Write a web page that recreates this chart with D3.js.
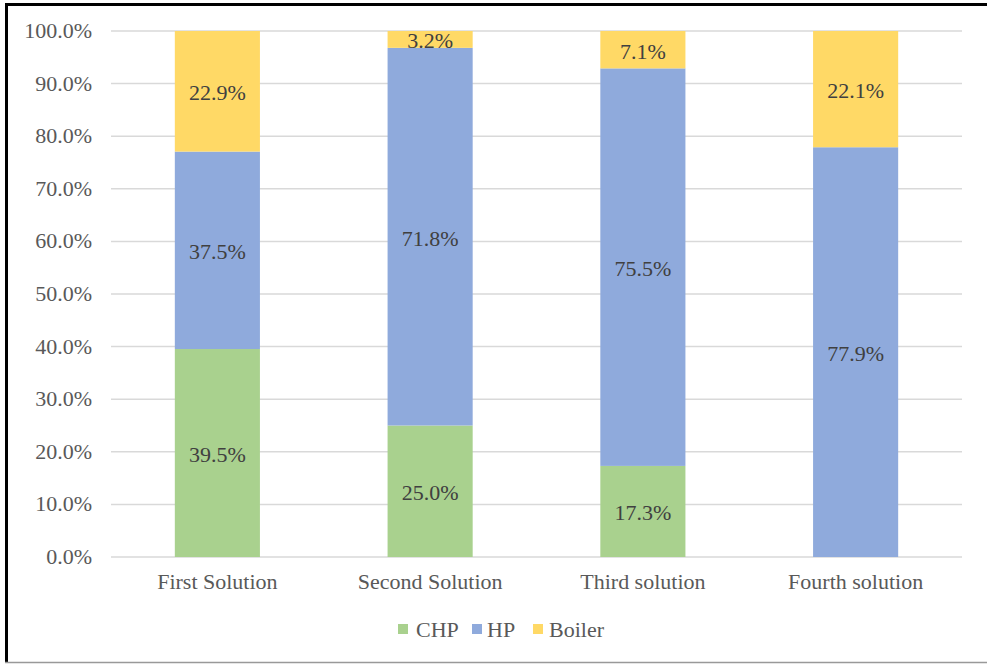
<!DOCTYPE html>
<html>
<head>
<meta charset="utf-8">
<script src="https://cdn.jsdelivr.net/npm/d3@7/dist/d3.min.js"></script>
<style>
  html, body { margin: 0; padding: 0; background: #fff; }
  svg { display: block; }
  text { font-family: "Liberation Serif", "Times New Roman", serif; }
</style>
</head>
<body>
<svg id="chart" width="987" height="664"></svg>
<script>
// Share of heat supply by technology for each solution
const categories = ["First Solution", "Second Solution", "Third solution", "Fourth solution"];
const seriesNames = ["CHP", "HP", "Boiler"];
const chpValues = [39.5, 25.0, 17.3, 0];
const hpValues = [37.5, 71.8, 75.5, 77.9];
const boilerValues = [22.9, 3.2, 7.1, 22.1];
const yTicks = [0, 0.1, 0.2, 0.3, 0.4, 0.5, 0.6, 0.7, 0.8, 0.9, 1.0];
const colors = { CHP: "#a9d18e", HP: "#8faadc", Boiler: "#ffd966" };

const rows = categories.map((c, i) => ({
  category: c, CHP: chpValues[i], HP: hpValues[i], Boiler: boilerValues[i]
}));

const svg = d3.select("#chart");
const W = 987, H = 664;
const FONT = "'Liberation Serif', 'Times New Roman', serif";
const STRETCH = "scale(1.1,1)"; // slightly widened serif lettering

// outer frame
svg.append("rect").attr("x", 0).attr("y", 0).attr("width", W).attr("height", H).attr("fill", "#fff");
svg.append("line").attr("x1", 6.5).attr("x2", 6.5).attr("y1", 3).attr("y2", 663)
  .attr("stroke", "#000").attr("stroke-width", 3);
svg.append("line").attr("x1", 5).attr("x2", W).attr("y1", 4.5).attr("y2", 4.5)
  .attr("stroke", "#000").attr("stroke-width", 3);
svg.append("line").attr("x1", 5).attr("x2", W).attr("y1", 662.5).attr("y2", 662.5)
  .attr("stroke", "#999").attr("stroke-width", 1.5);

const plot = { left: 111, right: 962, top: 31, bottom: 557 };

const x = d3.scaleBand().domain(categories)
  .range([plot.left, plot.right]).paddingInner(0.6).paddingOuter(0.3);
const y = d3.scaleLinear().domain([0, 1]).range([plot.bottom, plot.top]);

// gridlines
svg.append("g").selectAll("line").data(yTicks).join("line")
  .attr("x1", plot.left).attr("x2", plot.right)
  .attr("y1", d => y(d)).attr("y2", d => y(d))
  .attr("stroke", "#d9d9d9").attr("stroke-width", 1.5);

// y axis labels
const yAxis = d3.axisLeft(y).tickValues(yTicks).tickSize(0).tickPadding(0)
  .tickFormat(d => (d * 100).toFixed(1) + "%");
const yg = svg.append("g").attr("transform", `translate(${plot.left - 19},0)`).call(yAxis);
yg.select(".domain").remove();
yg.selectAll("text").attr("fill", "#595959").attr("font-size", 20)
  .attr("x", 0).attr("transform", STRETCH).style("font-family", FONT);

// x axis labels
const xAxis = d3.axisBottom(x).tickSize(0).tickPadding(0);
const xg = svg.append("g").attr("transform", `translate(0,${plot.bottom + 18})`).call(xAxis);
xg.select(".domain").remove();
xg.selectAll("text").attr("fill", "#595959").attr("font-size", 20)
  .attr("transform", STRETCH).style("font-family", FONT);

// stacked 100% bars
const stack = d3.stack().keys(seriesNames).offset(d3.stackOffsetExpand);
const layers = stack(rows);

const layerG = svg.append("g").selectAll("g").data(layers).join("g")
  .attr("fill", d => colors[d.key]);
layerG.selectAll("rect").data(d => d).join("rect")
  .attr("x", d => x(d.data.category))
  .attr("width", x.bandwidth())
  .attr("y", d => y(d[1]))
  .attr("height", d => y(d[0]) - y(d[1]));

// value labels, centred in each segment
const labelG = svg.append("g");
layers.forEach(layer => {
  layer.forEach(d => {
    const v = d.data[layer.key];
    if (v <= 0) return;
    const cx = x(d.data.category) + x.bandwidth() / 2;
    const cy = (y(d[0]) + y(d[1])) / 2;
    labelG.append("text")
      .attr("transform", `translate(${cx},${cy}) ${STRETCH}`)
      .attr("dy", "0.45em")
      .attr("text-anchor", "middle")
      .attr("font-size", 20)
      .attr("fill", "#404040")
      .text(v.toFixed(1) + "%");
  });
});

// legend
const legendItems = [
  { key: "CHP", sx: 398, tx: 416 },
  { key: "HP", sx: 472, tx: 487 },
  { key: "Boiler", sx: 533, tx: 549 }
];
const lg = svg.append("g");
legendItems.forEach(it => {
  lg.append("rect").attr("x", it.sx).attr("y", 624).attr("width", 10).attr("height", 10)
    .attr("fill", colors[it.key]);
  lg.append("text").attr("transform", `translate(${it.tx},630) ${STRETCH}`).attr("dy", "0.35em")
    .attr("font-size", 20).attr("fill", "#595959").text(it.key);
});
</script>
</body>
</html>
